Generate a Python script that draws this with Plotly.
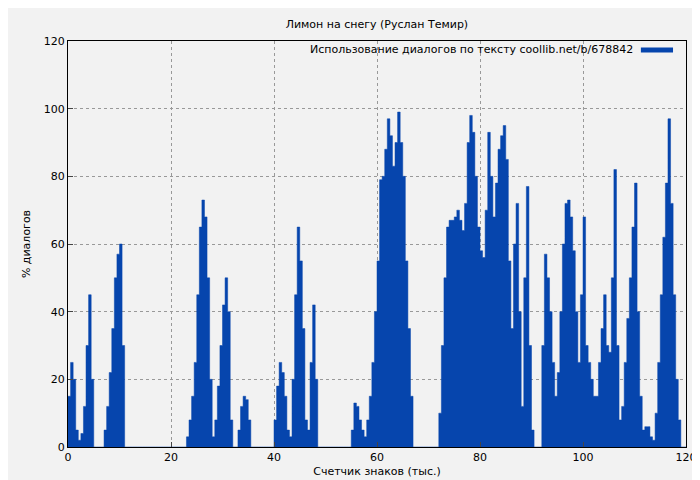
import plotly.graph_objects as go

step = 0.5
x_start = 0.0
values = [
 15,25,20,5,2,4,12,30,45,20, 0,0,0,0,5,12,22,35,50,57,
 60,30,0,0,0,0,0,0,0,0, 0,0,0,0,0,0,0,0,0,0,
 0,0,0,0,0,0,3,8,15,25, 45,65,73,68,50,20,3,8,18,30,
 42,50,40,8,0,0,5,12,15,14, 8,0,0,0,0,0,0,0,0,0,
 8,18,25,22,15,5,3,20,45,65, 55,35,8,5,25,42,20,0,0,0,
 0,0,0,0,0,0,0,0,0,0, 5,13,12,8,5,3,8,15,25,40,
 55,79,80,88,97,92,83,90,99,90, 80,55,35,15,0,0,0,0,0,0,
 0,0,0,0,10,30,50,65,67,67, 68,70,67,64,72,90,98,93,80,65,
 58,56,70,93,80,68,78,88,92,95, 85,55,35,60,72,40,12,50,77,30,
 5,0,0,0,30,57,50,40,25,15, 22,40,60,72,73,68,58,40,25,45,
 68,30,25,20,15,15,25,35,45,30, 28,50,82,30,8,12,25,38,50,65,
 78,40,15,5,6,6,3,2,10,25, 45,62,78,97,72,45,20,8,0,0,
]
xs = [x_start + i * step for i in range(len(values))] + [x_start + len(values) * step]
ys = values + [values[-1]]

title = "Лимон на снегу (Руслан Темир)"
legend_label = "Использование диалогов по тексту coollib.net/b/678842"
x_title = "Счетчик знаков (тыс.)"
y_title = "% диалогов"
blue = "#0645ad"

fig = go.Figure(go.Scatter(x=xs, y=ys, mode="lines", line=dict(shape="hv", width=0.5, color=blue),
                           fill="tozeroy", fillcolor=blue, showlegend=False))
fig.update_layout(
    width=700, height=480,
    paper_bgcolor="#f2f2f2", plot_bgcolor="#f2f2f2",
    font=dict(family="DejaVu Sans", size=11, color="black"),
    margin=dict(l=60, r=22, t=33, b=41, autoexpand=False),
    title=dict(text=title, x=0.527, xanchor="center", y=0.975, yanchor="top", font=dict(size=11)),
)
axis_common = dict(showline=True, linecolor="black", linewidth=1, mirror=True, ticks="inside", ticklen=5,
                   showgrid=True, gridcolor="#999999", griddash="dot", gridwidth=1, zeroline=False,
                   automargin=False, tickfont=dict(size=11))
fig.update_xaxes(range=[0, 120], dtick=20, title=dict(text=x_title, standoff=4, font=dict(size=11)), **axis_common)
fig.update_yaxes(range=[0, 120], dtick=20, title=dict(text=y_title, standoff=10, font=dict(size=11)), **axis_common)
fig.add_annotation(text=legend_label, xref="paper", yref="paper", x=0.918, y=0.978,
                   xanchor="right", yanchor="middle", showarrow=False, font=dict(size=11))
fig.add_shape(type="line", xref="paper", yref="paper", x0=0.927, x1=0.979, y0=0.978, y1=0.978,
              line=dict(color=blue, width=5))
fig.write_html("out.html")
